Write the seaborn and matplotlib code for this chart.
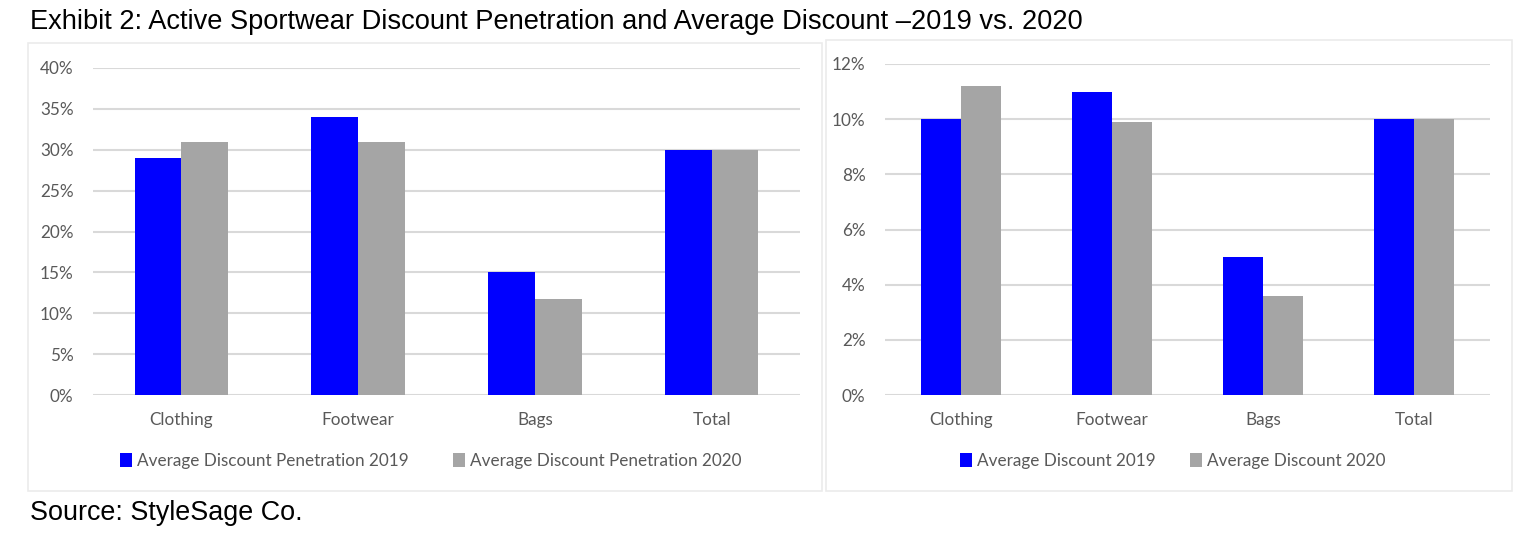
import matplotlib
matplotlib.use("Agg")
import matplotlib.pyplot as plt
from matplotlib.patches import Rectangle
from matplotlib.ticker import FuncFormatter
import pandas as pd
import seaborn as sns

# -------------------------------------------------------- #
# data

categories = ["Clothing", "Footwear", "Bags", "Total"]

penetration_2019 = [29, 34, 15, 30]
penetration_2020 = [31, 31, 11.7, 30]

discount_2019 = [10, 11, 5, 10]
discount_2020 = [11.2, 9.9, 3.6, 10]

left_labels = ["Average Discount Penetration 2019", "Average Discount Penetration 2020"]
right_labels = ["Average Discount 2019", "Average Discount 2020"]

title = "Exhibit 2: Active Sportwear Discount Penetration and Average Discount \u20132019 vs. 2020"
source = "Source: StyleSage Co."

# -------------------------------------------------------- #

sns.set_style("white")
plt.rcParams["font.family"] = ["Lato", "DejaVu Sans"]

blue = "#0000FF"
gray = "#A5A5A5"
grid_c = "#D9D9D9"
text_c = "#595959"


def long_form(v19, v20, labels):
    return pd.DataFrame({
        "category": categories * 2,
        "value": list(v19) + list(v20),
        "series": [labels[0]] * 4 + [labels[1]] * 4,
    })


fig = plt.figure(figsize=(15.4, 5.36), dpi=100)

# panel frames
fig.add_artist(Rectangle((28 / 1540, 1 - 491 / 536), 794 / 1540, 448 / 536,
                         transform=fig.transFigure, fill=False, edgecolor="#EBEBEB", lw=1.2))
fig.add_artist(Rectangle((826 / 1540, 1 - 491 / 536), 686 / 1540, 451 / 536,
                         transform=fig.transFigure, fill=False, edgecolor="#EBEBEB", lw=1.2))

ax1 = fig.add_axes([93 / 1540, 141 / 536, 707 / 1540, 327 / 536])
ax2 = fig.add_axes([885 / 1540, 141 / 536, 605 / 1540, 331 / 536])

panels = [
    (ax1, long_form(penetration_2019, penetration_2020, left_labels), left_labels, 40, 5, 431, 2.6),
    (ax2, long_form(discount_2019, discount_2020, right_labels), right_labels, 12, 2, 1173, 2.0),
]

for ax, df, labels, ymax, step, leg_x, colsp in panels:
    sns.barplot(data=df, x="category", y="value", hue="series", ax=ax,
                palette=[blue, gray], width=0.53, saturation=1, errorbar=None,
                edgecolor="none", linewidth=0, zorder=3)
    ax.set_ylim(0, ymax)
    ax.set_yticks(range(0, ymax + 1, step))
    ax.yaxis.set_major_formatter(FuncFormatter(lambda v, p: f"{v:.0f}%"))
    ax.grid(axis="y", color=grid_c, lw=1.5, zorder=0)
    ax.set_axisbelow(True)
    sns.despine(ax=ax, left=True, bottom=True)
    ax.set_xlabel("")
    ax.set_ylabel("")
    ax.tick_params(axis="both", length=0, labelsize=12.3, colors=text_c, pad=12)
    ax.tick_params(axis="y", pad=14)
    ax.set_xlim(-0.5, 3.5)
    handles, _ = ax.get_legend_handles_labels()
    ax.legend(handles, labels, loc="center", ncol=2, frameon=False,
              bbox_to_anchor=(leg_x / 1540, 1 - 461 / 536), bbox_transform=fig.transFigure,
              fontsize=12.3, labelcolor=text_c, handlelength=0.7, handleheight=0.9,
              handletextpad=0.3, columnspacing=colsp)

fig.text(30 / 1540, 1 - 22 / 536, title, fontsize=19.6, family="Liberation Sans",
         ha="left", va="center", color="black")
fig.text(30 / 1540, 1 - 513 / 536, source, fontsize=19.4, family="Liberation Sans",
         ha="left", va="center", color="black")

plt.savefig("out.png", dpi=100)
